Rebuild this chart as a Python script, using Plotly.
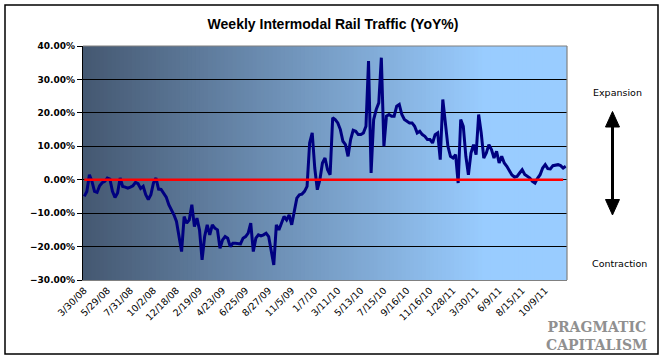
import plotly.graph_objects as go

# ---------------- data ----------------
tick_labels = ["3/30/08", "5/29/08", "7/31/08", "10/2/08", "12/18/08", "2/19/09",
               "4/23/09", "6/25/09", "8/27/09", "11/5/09", "1/7/10", "3/11/10",
               "5/13/10", "7/15/10", "9/16/10", "11/16/10", "1/28/11", "3/30/11",
               "6/9/11", "8/15/11", "10/9/11"]
label_step = 9  # one label every 9 weekly categories

yoy_pct = [
    -5.0, -3.5, 1.5, -0.5, -3.5, -3.8, -1.8, -0.9, -0.5, 0.5,
    0.2, -3.5, -5.3, -4.0, 0.5, -2.0, -2.2, -2.5, -2.2, -1.8,
    -0.8, -1.2, -2.6, -2.0, -4.5, -5.9, -4.5, -1.0, 0.5, -2.8,
    -2.9, -4.0, -5.2, -7.5, -9.0, -10.5, -12.5, -17.0, -21.5, -11.0,
    -13.0, -12.0, -7.5, -14.0, -11.5, -15.0, -24.0, -17.0, -13.5, -16.5,
    -13.5, -14.5, -15.0, -20.5, -18.0, -17.0, -17.5, -20.0, -19.0, -19.0,
    -19.0, -19.2, -17.5, -17.0, -16.0, -13.0, -21.5, -17.5, -16.5, -16.8,
    -16.5, -16.0, -17.0, -21.0, -25.5, -13.5, -15.0, -13.0, -11.0, -12.0,
    -10.5, -13.5, -9.0, -5.5, -4.5, -4.3, -3.5, -2.0, 11.0, 14.0,
    3.5, -3.0, 0.0, 5.0, 6.5, 3.0, 1.5, 18.5, 18.0, 17.0,
    15.0, 11.5, 10.5, 7.0, 12.0, 14.8, 14.5, 13.5, 13.5, 14.0,
    16.0, 35.5, 2.0, 18.0, 21.0, 23.0, 36.5, 10.0, 19.0, 19.5,
    19.0, 19.0, 22.0, 22.5, 19.5, 18.0, 17.5, 17.0, 17.0, 16.0,
    14.0, 14.5, 13.5, 13.0, 12.0, 12.0, 11.0, 13.5, 14.0, 6.0,
    24.0, 17.5, 10.0, 7.0, 6.5, 7.5, -1.0, 18.0, 16.0, 7.0,
    1.5, 8.0, 10.5, 7.5, 19.5, 14.0, 6.5, 8.0, 10.5, 9.0,
    6.5, 8.5, 5.0, 7.0, 5.0, 4.0, 2.8, 1.4, 0.8, 1.0,
    2.0, 3.0, 1.6, 1.0, 0.5, -0.5, -1.0, 0.4, 1.5, 3.5,
    4.5, 3.3, 3.2, 4.2, 4.3, 4.5, 4.2, 3.5, 4.0,
]
weeks = list(range(len(yoy_pct)))
zero_ref = [0.0, 0.0]
y_ticks = [-0.30, -0.20, -0.10, 0.0, 0.10, 0.20, 0.30, 0.40]

# ---------------- layout geometry ----------------
W, H = 666, 357
L, R, T, B = 83, 99, 46, 77
PW, PH = W - L - R, H - T - B


def xp(px):
    return (px - L) / PW


def yp(py):
    return (H - B - py) / PH


fig = go.Figure()
fig.add_trace(go.Scatter(
    x=weeks, y=[v / 100 for v in yoy_pct], mode="lines",
    line=dict(color="#000080", width=3), hoverinfo="skip", showlegend=False))
fig.add_trace(go.Scatter(
    x=[weeks[0], weeks[-2]], y=zero_ref, mode="lines",
    line=dict(color="#ff0000", width=2.5), hoverinfo="skip", showlegend=False))

shapes = []
# gradient background
c0 = (0x45, 0x58, 0x71)
c1 = (0x99, 0xCC, 0xFF)
n = 120
end_px = 485
for k in range(n):
    xa = k / n
    xb = (k + 1) / n + 0.002
    pxm = L + (xa + 0.5 / n) * PW
    t = min(1.0, max(0.0, (pxm - L) / (end_px - L)))
    col = "rgb(%d,%d,%d)" % tuple(round(a + (b - a) * t) for a, b in zip(c0, c1))
    shapes.append(dict(type="rect", xref="paper", yref="paper", x0=xa, x1=min(xb, 1),
                       y0=0, y1=1, fillcolor=col, line=dict(width=0), layer="below"))
# plot border top/right gray
shapes.append(dict(type="line", xref="paper", yref="paper", x0=0, x1=1, y0=1, y1=1,
                   line=dict(color="#808080", width=1.2)))
shapes.append(dict(type="line", xref="paper", yref="paper", x0=1, x1=1, y0=0, y1=1,
                   line=dict(color="#808080", width=1.2)))
# outer frame
shapes.append(dict(type="rect", xref="paper", yref="paper", x0=xp(5), x1=xp(658),
                   y0=yp(354), y1=yp(5), line=dict(color="black", width=1.5)))
# double arrow
ax = 612.5
shapes.append(dict(type="line", xref="paper", yref="paper", x0=xp(ax), x1=xp(ax),
                   y0=yp(124), y1=yp(202), line=dict(color="black", width=3)))
shapes.append(dict(type="path", xref="paper", yref="paper",
                   path="M %f %f L %f %f L %f %f Z" % (xp(ax), yp(111.5), xp(ax - 7), yp(127), xp(ax + 7), yp(127)),
                   fillcolor="black", line=dict(color="black", width=1)))
shapes.append(dict(type="path", xref="paper", yref="paper",
                   path="M %f %f L %f %f L %f %f Z" % (xp(ax), yp(215), xp(ax - 7), yp(199.5), xp(ax + 7), yp(199.5)),
                   fillcolor="black", line=dict(color="black", width=1)))

annotations = [
    dict(text="Expansion", xref="paper", yref="paper", x=xp(617), y=yp(93),
         xanchor="center", yanchor="middle",
         showarrow=False, font=dict(family="DejaVu Sans", size=9.5, color="black")),
    dict(text="Contraction", xref="paper", yref="paper", x=xp(619), y=yp(263),
         xanchor="center", yanchor="middle",
         showarrow=False, font=dict(family="DejaVu Sans", size=9.5, color="black")),
    dict(text="PRAGMATIC<br>CAPITALISM", xref="paper", yref="paper", x=xp(597), y=yp(336),
         xanchor="center", yanchor="middle", align="center",
         showarrow=False, font=dict(family="DejaVu Serif", size=14, color="#909090", weight="bold")),
]

fig.update_layout(
    width=W, height=H,
    margin=dict(l=L, r=R, t=T, b=B, pad=0, autoexpand=False),
    paper_bgcolor="white", plot_bgcolor="rgba(0,0,0,0)",
    title=dict(text="Weekly Intermodal Rail Traffic (YoY%)", x=333 / W, xanchor="center",
               y=1 - 24 / H, yanchor="middle", automargin=False,
               font=dict(family="Liberation Sans", size=14, color="black", weight="bold")),
    shapes=shapes, annotations=annotations,
    xaxis=dict(range=[-0.5, len(weeks) - 0.5], tickmode="array", automargin=False,
               tickvals=weeks[::label_step][:len(tick_labels)], ticktext=tick_labels,
               tickangle=-45, showgrid=False, zeroline=False, showline=True,
               linecolor="#808080", linewidth=1.2, ticks="",
               tickfont=dict(family="DejaVu Sans", size=9.5, color="black")),
    yaxis=dict(range=[-0.30, 0.40], tickmode="array", tickvals=y_ticks, tickformat=".2%",
               automargin=False,
               showgrid=True, gridcolor="black", gridwidth=1, zeroline=False,
               showline=True, linecolor="black", linewidth=1.2, ticks="outside",
               ticklen=5, tickcolor="black",
               tickfont=dict(family="DejaVu Sans", size=9, color="black", weight="bold")),
)

fig.write_html("out.html", config={"displayModeBar": False},
               post_script="document.body.style.margin='0px';document.body.style.overflow='hidden';")
